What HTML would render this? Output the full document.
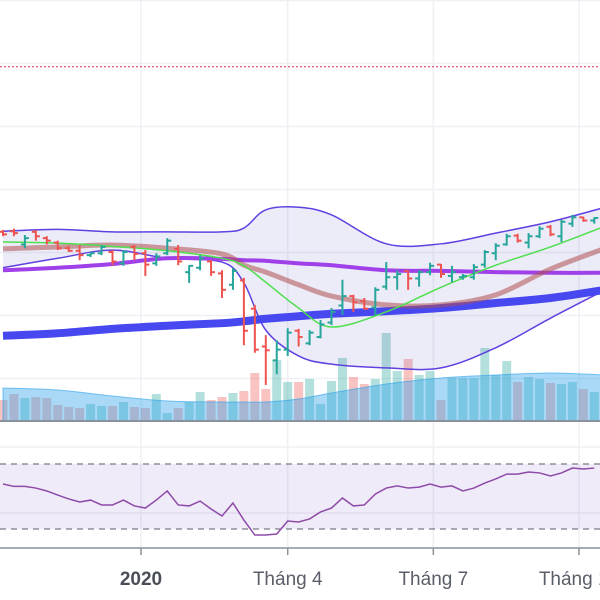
<!DOCTYPE html>
<html><head><meta charset="utf-8">
<style>
html,body{margin:0;padding:0;background:#fff;}
svg{display:block;font-family:"Liberation Sans",sans-serif;}
</style></head>
<body>
<svg id="chart" width="600" height="600" viewBox="0 0 600 600" xmlns="http://www.w3.org/2000/svg"></svg>
<script>
const opens  = [932,933,912,932,922,915,906,902,895,898,900,882,908,898,882,898,905,868,875,885,866,848,855,810,750,728,745,775,755,765,788,815,830,822,812,845,860,870,858,868,880,862,860,860,880,898,912,926,915,925,940,925,945,955,950];
const highs  = [935,937,927,935,925,918,910,911,900,911,903,903,911,903,898,922,911,879,895,887,871,875,859,816,768,760,779,778,776,792,811,856,832,827,844,884,871,871,871,883,881,878,865,881,903,914,929,929,930,941,943,951,959,956,955];
const lows   = [925,925,906,918,912,903,900,887,892,895,879,878,887,862,878,895,879,851,871,862,827,840,752,740,689,706,735,750,752,763,784,800,805,808,800,840,840,840,845,863,859,852,856,856,875,887,910,915,906,922,925,916,940,948,945];
const closes = [928,930,922,925,918,906,902,895,898,908,885,900,897,880,893,918,885,878,890,868,840,870,775,745,744,745,772,765,772,785,805,830,820,810,840,860,865,858,868,878,865,868,862,876,900,910,925,918,925,937,928,948,955,950,954];
const volumes = [21,27,23,24,23,16,14,13,17,15,15,19,14,13,27,8,13,19,29,21,24,28,30,48,32,61,39,39,42,17,40,63,44,37,42,88,50,62,46,50,21,43,43,43,73,46,60,39,44,42,38,37,39,32,29];
const rsi = [57.7,56.2,56.2,55.2,53.4,50.9,48.5,46.6,47.8,44.8,44.8,47.8,44.2,42.9,47.8,53.4,44.8,44.2,47.2,42.3,38,46,35.5,26.3,26.3,26.9,34.9,34.3,36.2,40.5,42.9,49.1,44.2,44.8,51.5,55.2,56.5,55.2,55.8,57.7,55.8,56.5,53.4,55.2,58.3,60.8,63.8,63.8,65.1,64.5,62.6,64.5,67.5,66.9,67.5];
// indicators sampled at these bar indices
const sampleIdx = [0,5,10,15,20,22,24,27,30,35,40,45,50,55];
const bbUpper = [933,936,932,932,932,938,967,971,959,913,913,930,948,971];
const bbLower = [875,890,903,890,884,851,776,735,722,716,716,748,795,840];
const ma20    = [916,914,909,902,890,878,852,811,781,805,844,879,908,941];
const ma50    = [905,908,911,906,897,879,868,848,830,816,816,832,873,906];
const ma100   = [871,875,881,890,889,887,886,882,879,871,870,868,867,867];
const ma200   = [767,771,778,783,787,790,794,798,802,806,811,819,827,840];
const volMA   = [33,31,25,20,19,19,19,22,28,37,43,46,48,46];
const resistance = 1194;
const priceTicks = [700,800,900,1000,1100,1200,1300];
const xTicks = [{i:12.6,label:"2020",bold:true},{i:26,label:"Tháng 4"},{i:39.3,label:"Tháng 7"},{i:52.6,label:"Tháng 10"}];

const NS="http://www.w3.org/2000/svg";
const svg=document.getElementById('chart');
const xS=i=>3+i*10.95;
const yP=v=>378-(v-700)*0.63;
const yV=v=>421-v*1.0;
const yR=r=>529-(r-30)*1.625;
function mk(tag,attrs,parent){const e=document.createElementNS(NS,tag);for(const k in attrs)e.setAttribute(k,attrs[k]);(parent||svg).appendChild(e);return e;}
function smooth(pts){let d=`M${pts[0][0]},${pts[0][1]}`;for(let i=0;i<pts.length-1;i++){const p0=pts[i-1]||pts[i],p1=pts[i],p2=pts[i+1],p3=pts[i+2]||p2;
 d+=` C${p1[0]+(p2[0]-p0[0])/6},${p1[1]+(p2[1]-p0[1])/6} ${p2[0]-(p3[0]-p1[0])/6},${p2[1]-(p3[1]-p1[1])/6} ${p2[0]},${p2[1]}`;}return d;}
function pts(arr,yf){return arr.map((v,k)=>[xS(sampleIdx[k]),yf(v)]);}

// grids
const grid=mk('g',{});


priceTicks.forEach(v=>{mk('line',{x1:0,x2:600,y1:yP(v)+0.5,y2:yP(v)+0.5,stroke:'#eef0f4','stroke-width':1.5},grid);});
[447,513].forEach(y=>mk('line',{x1:0,x2:600,y1:y,y2:y,stroke:'#eef0f4','stroke-width':1.5},grid));
xTicks.forEach(t=>mk('line',{x1:xS(t.i),x2:xS(t.i),y1:0,y2:548,stroke:'#eef0f4','stroke-width':1.5},grid));

// resistance
const res=mk('line',{x1:0,x2:600,y1:yP(resistance),y2:yP(resistance),stroke:'#e0314a','stroke-width':1,'stroke-dasharray':'2,2'});



// volume bars
const vg=mk('g',{});


volumes.forEach((v,i)=>{const up=closes[i]>=opens[i];
 const r=mk('rect',{x:xS(i)-4.5,y:yV(v),width:9,height:421-yV(v),fill:up?'#26a69a':'#ef5350','fill-opacity':0.35},vg);
 
 });
const vp=pts(volMA,yV);
const va=mk('path',{d:smooth(vp)+` L${vp[vp.length-1][0]},421 L${vp[0][0]},421 Z`,fill:'rgba(41,160,235,0.4)',stroke:'rgba(41,160,235,0.6)','stroke-width':1});



// bollinger
const up=pts(bbUpper,yP), lo=pts(bbLower,yP);
const loRev=lo.slice().reverse();
const fillD=smooth(up)+' L'+loRev[0][0]+','+loRev[0][1]+smooth(loRev).replace(/^M[^C]*/,' ')+' Z';
const bf=mk('path',{d:fillD,fill:'rgba(110,100,200,0.13)',stroke:'none'});


const bu=mk('path',{d:smooth(up),fill:'none',stroke:'#6040e0','stroke-width':1.5});


const bl=mk('path',{d:smooth(lo),fill:'none',stroke:'#6040e0','stroke-width':1.5});



// moving averages
const m200=mk('path',{d:smooth(pts(ma200,yP)),fill:'none',stroke:'#4848f0','stroke-width':8});


const m100=mk('path',{d:smooth(pts(ma100,yP)),fill:'none',stroke:'#a040e8','stroke-width':4});


const m50=mk('path',{d:smooth(pts(ma50,yP)),fill:'none',stroke:'rgba(175,80,80,0.55)','stroke-width':5});


const m20=mk('path',{d:smooth(pts(ma20,yP)),fill:'none',stroke:'#4ee04e','stroke-width':1.5});



// OHLC bars
const og=mk('g',{});


opens.forEach((o,i)=>{const c=closes[i],col=c>=o?'#26a69a':'#ef5350',x=xS(i);
 const g=mk('g',{stroke:col,'stroke-width':2},og);
 
 
 mk('line',{x1:x,x2:x,y1:yP(highs[i]),y2:yP(lows[i])},g);
 mk('line',{x1:x-4,x2:x,y1:yP(o),y2:yP(o)},g);
 mk('line',{x1:x,x2:x+4,y1:yP(c),y2:yP(c)},g);});

// main axis line
const ax=mk('line',{x1:0,x2:600,y1:421,y2:421,stroke:'#8a929c','stroke-width':2});



// RSI panel
const rb=mk('rect',{x:0,y:yR(70),width:600,height:yR(30)-yR(70),fill:'rgba(126,87,194,0.12)'});


[70,30].forEach(r=>{const l=mk('line',{x1:0,x2:600,y1:yR(r),y2:yR(r),stroke:'#787b86','stroke-width':1.2,'stroke-dasharray':'6,5'});
 
 });
const rl=mk('polyline',{points:rsi.map((r,i)=>xS(i)+','+yR(r)).join(' '),fill:'none',stroke:'#8e4aa8','stroke-width':1.5});



// x axis
const xa=mk('line',{x1:0,x2:600,y1:548,y2:548,stroke:'#8a929c','stroke-width':1.5});


xTicks.forEach(t=>{const x=xS(t.i);
 mk('line',{x1:x,x2:x,y1:548,y2:555,stroke:'#8a929c','stroke-width':1.5});
 const tx=mk('text',{x:x,y:585,'text-anchor':'middle','font-size':19,fill:t.bold?'#4a4e58':'#5a5e68','font-weight':t.bold?'bold':'normal'});
 tx.textContent=t.label;
 
 });
</script>
</body></html>
